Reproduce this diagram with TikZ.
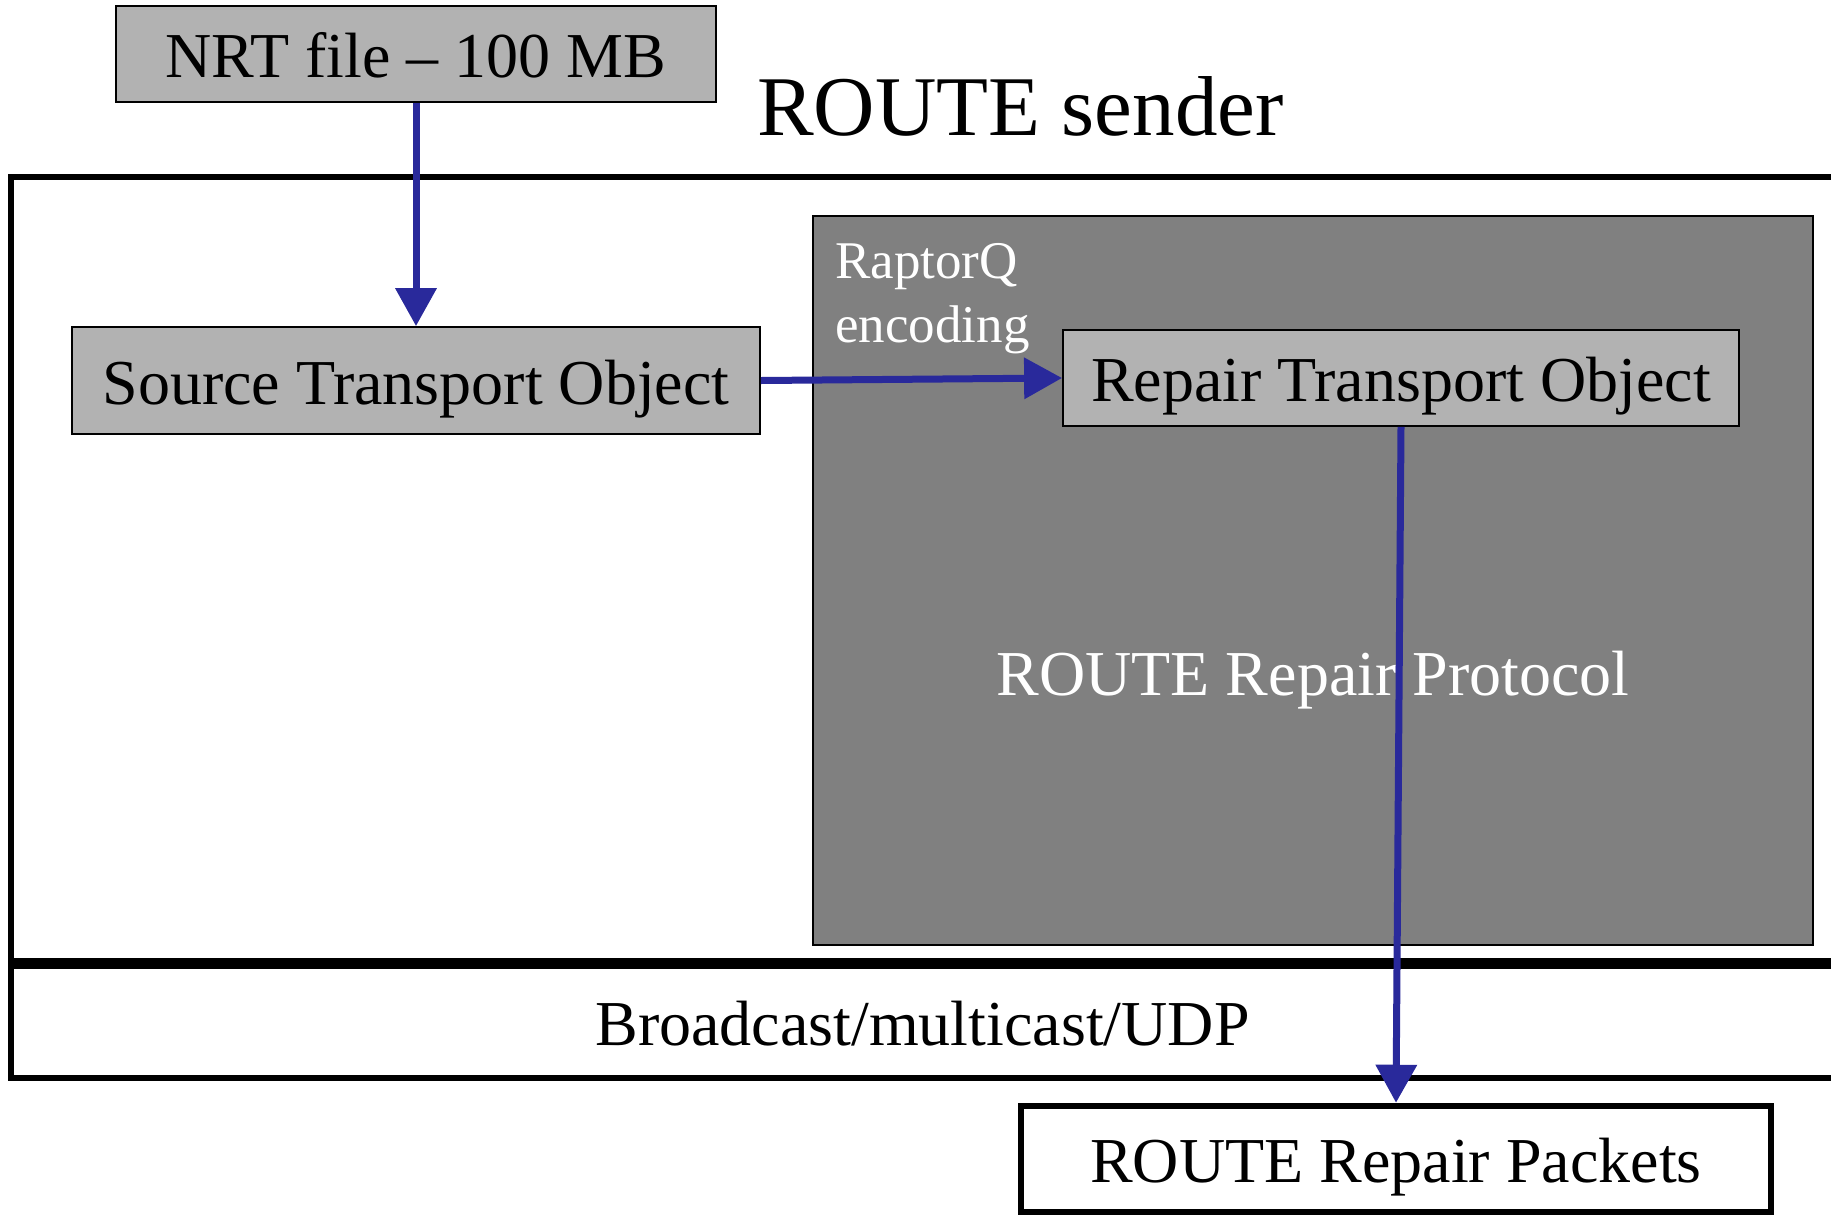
\documentclass[tikz,border=0pt]{standalone}
\usepackage{fontspec}
\setmainfont{Liberation Serif}
\usetikzlibrary{arrows.meta}
\definecolor{flowblue}{RGB}{41,41,155}
\definecolor{boxgray}{RGB}{178,178,178}
\definecolor{layergray}{RGB}{128,128,128}
\begin{document}
\begin{tikzpicture}[x=1pt,y=-1pt,
  bigtext/.style={font=\fontsize{64}{77}\selectfont},
  objbox/.style={draw=black, line width=1.8pt, fill=boxgray, inner sep=0pt,
    text height=47pt, text depth=0pt, bigtext},
  layerbox/.style={draw=black, line width=6.5pt, fill=white, inner sep=0pt,
    text height=47pt, text depth=0pt, bigtext},
  flow/.style={draw=flowblue, line width=7pt,
    -{Triangle[width=40pt,length=38pt]}, shorten <=0pt}]
\useasboundingbox (0,0) rectangle (1831,1216);

% protocol layers of the sender
\node[layerbox, minimum width=1823pt, minimum height=784pt] (sender) at (922.5,569) {};
\node[layerbox, minimum width=1823pt, minimum height=112pt] (udp) at (922.5,1022) {Broadcast/multicast/UDP};

% repair protocol block
\node[draw=black, line width=1.5pt, fill=layergray, inner sep=0pt,
  minimum width=1000pt, minimum height=729pt] (repair) at (1313,580.5) {};
% the base anchor of a two-line node sits on its last line
\node[anchor=base west, align=left, inner sep=0pt, text=white,
  font=\fontsize{53}{64}\selectfont] (enc) at (835,342) {RaptorQ\\encoding};
\node[anchor=base, inner sep=0pt, text=white, bigtext] (protocol) at (1313,695) {ROUTE Repair Protocol};

% title
\node[anchor=base west, inner sep=0pt, font=\fontsize{85}{100}\selectfont] (title) at (757,135) {ROUTE sender};

% objects
\node[objbox, minimum width=600pt, minimum height=96pt] (nrt) at (416,54) {NRT file – 100 MB};
\node[objbox, minimum width=688pt, minimum height=107pt] (source) at (416,380.5) {Source Transport Object};
\node[objbox, minimum width=676pt, minimum height=96pt] (rto) at (1401,378) {Repair Transport Object};
\node[layerbox, minimum width=750pt, minimum height=106pt] (packets) at (1396,1159) {ROUTE Repair Packets};

% data flow
\draw[flow] (nrt.south) -- (source.north);
\draw[flow] (source.east) -- (rto.west);
\draw[flow] (rto.south) -- (packets.north);
\end{tikzpicture}
\end{document}
